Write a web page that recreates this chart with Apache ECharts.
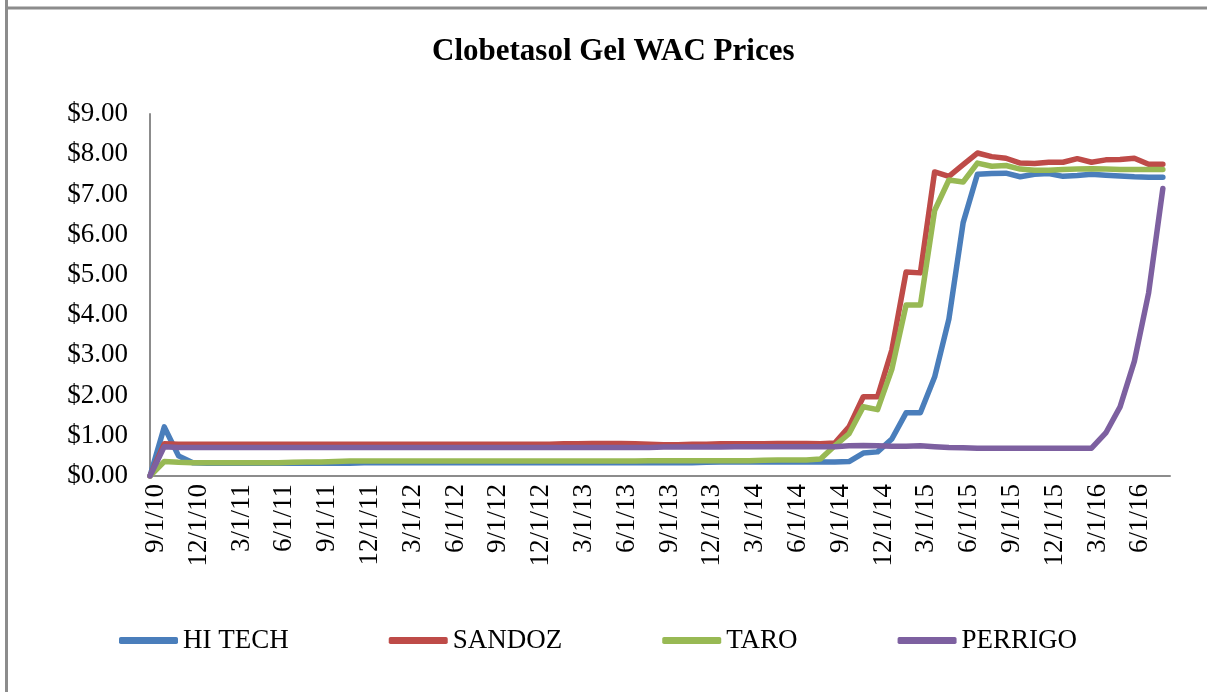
<!DOCTYPE html>
<html>
<head>
<meta charset="utf-8">
<script src="https://cdn.jsdelivr.net/npm/echarts@6/dist/echarts.min.js"></script>
<style>
  html, body { margin: 0; padding: 0; background: #fff; }
  #chart { width: 1207px; height: 692px; }
</style>
</head>
<body>
<div id="chart"></div>
<script>
  // monthly dates, 9/1/10 .. 8/1/16
  var months = [
    '9/1/10', '10/1/10', '11/1/10', '12/1/10', '1/1/11', '2/1/11', '3/1/11', '4/1/11', '5/1/11', '6/1/11', '7/1/11', '8/1/11',
    '9/1/11', '10/1/11', '11/1/11', '12/1/11', '1/1/12', '2/1/12', '3/1/12', '4/1/12', '5/1/12', '6/1/12', '7/1/12', '8/1/12',
    '9/1/12', '10/1/12', '11/1/12', '12/1/12', '1/1/13', '2/1/13', '3/1/13', '4/1/13', '5/1/13', '6/1/13', '7/1/13', '8/1/13',
    '9/1/13', '10/1/13', '11/1/13', '12/1/13', '1/1/14', '2/1/14', '3/1/14', '4/1/14', '5/1/14', '6/1/14', '7/1/14', '8/1/14',
    '9/1/14', '10/1/14', '11/1/14', '12/1/14', '1/1/15', '2/1/15', '3/1/15', '4/1/15', '5/1/15', '6/1/15', '7/1/15', '8/1/15',
    '9/1/15', '10/1/15', '11/1/15', '12/1/15', '1/1/16', '2/1/16', '3/1/16', '4/1/16', '5/1/16', '6/1/16', '7/1/16', '8/1/16'
  ];

  var hiTech = [
    0, 1.22, 0.50, 0.33, 0.32, 0.32, 0.32, 0.32, 0.32, 0.32, 0.32, 0.32,
    0.32, 0.32, 0.32, 0.33, 0.33, 0.33, 0.33, 0.33, 0.33, 0.33, 0.33, 0.33,
    0.33, 0.33, 0.33, 0.33, 0.33, 0.33, 0.33, 0.33, 0.33, 0.33, 0.33, 0.33,
    0.33, 0.33, 0.33, 0.34, 0.35, 0.35, 0.35, 0.35, 0.35, 0.35, 0.35, 0.35,
    0.35, 0.36, 0.57, 0.60, 0.92, 1.57, 1.57, 2.46, 3.90, 6.30, 7.50, 7.52,
    7.53, 7.44, 7.50, 7.52, 7.45, 7.47, 7.50, 7.48, 7.46, 7.44, 7.43, 7.43
  ];
  var sandoz = [
    0, 0.80, 0.79, 0.79, 0.79, 0.79, 0.79, 0.79, 0.79, 0.79, 0.79, 0.79,
    0.79, 0.79, 0.79, 0.79, 0.79, 0.79, 0.79, 0.79, 0.79, 0.79, 0.79, 0.79,
    0.79, 0.79, 0.79, 0.79, 0.79, 0.80, 0.80, 0.81, 0.81, 0.81, 0.80, 0.79,
    0.78, 0.78, 0.79, 0.79, 0.80, 0.80, 0.80, 0.80, 0.81, 0.81, 0.81, 0.80,
    0.82, 1.22, 1.97, 1.97, 3.13, 5.07, 5.05, 7.56, 7.45, 7.74, 8.03, 7.94,
    7.90, 7.78, 7.77, 7.80, 7.80, 7.89, 7.80, 7.86, 7.87, 7.90, 7.75, 7.75
  ];
  var taro = [
    0, 0.36, 0.34, 0.33, 0.33, 0.33, 0.33, 0.33, 0.33, 0.33, 0.34, 0.35,
    0.35, 0.36, 0.37, 0.37, 0.37, 0.37, 0.37, 0.37, 0.37, 0.37, 0.37, 0.37,
    0.37, 0.37, 0.37, 0.37, 0.37, 0.37, 0.37, 0.37, 0.37, 0.37, 0.37, 0.38,
    0.38, 0.38, 0.38, 0.38, 0.38, 0.38, 0.38, 0.39, 0.40, 0.40, 0.40, 0.42,
    0.75, 1.05, 1.72, 1.65, 2.65, 4.25, 4.25, 6.60, 7.36, 7.31, 7.78, 7.70,
    7.72, 7.63, 7.60, 7.60, 7.62, 7.63, 7.64, 7.63, 7.62, 7.62, 7.62, 7.62
  ];
  var perrigo = [
    0, 0.73, 0.71, 0.71, 0.71, 0.71, 0.71, 0.71, 0.71, 0.71, 0.71, 0.71,
    0.71, 0.71, 0.71, 0.71, 0.71, 0.71, 0.71, 0.71, 0.71, 0.71, 0.71, 0.71,
    0.71, 0.71, 0.71, 0.71, 0.71, 0.71, 0.71, 0.71, 0.71, 0.71, 0.71, 0.71,
    0.72, 0.72, 0.72, 0.72, 0.72, 0.73, 0.73, 0.73, 0.73, 0.73, 0.73, 0.73,
    0.73, 0.75, 0.76, 0.75, 0.74, 0.74, 0.75, 0.73, 0.71, 0.70, 0.69, 0.69,
    0.69, 0.69, 0.69, 0.69, 0.69, 0.69, 0.69, 1.07, 1.72, 2.85, 4.55, 7.15
  ];

  var seriesNames = ['HI TECH', 'SANDOZ', 'TARO', 'PERRIGO'];
  var seriesColors = ['#4A7EBB', '#BE4B48', '#98B954', '#7D60A0'];
  var seriesValues = [hiTech, sandoz, taro, perrigo];

  var font = '"Liberation Serif", "Times New Roman", serif';

  var series = seriesNames.map(function (name, k) {
    return {
      name: name,
      type: 'line',
      showSymbol: false,
      symbol: 'none',
      color: seriesColors[k],
      lineStyle: { width: 5.5, cap: 'round', join: 'round' },
      data: seriesValues[k].map(function (v, i) { return [i, v]; })
    };
  });

  var chart = echarts.init(document.getElementById('chart'));
  chart.setOption({
    animation: false,
    backgroundColor: '#fff',
    title: {
      text: 'Clobetasol Gel WAC Prices',
      left: 427,
      top: 31,
      textStyle: { fontFamily: font, fontSize: 31, fontWeight: 'bold', color: '#000' }
    },
    legend: {
      left: 114,
      top: 622,
      itemWidth: 59,
      itemHeight: 7,
      itemGap: 100,
      icon: 'roundRect',
      textStyle: { fontFamily: font, fontSize: 27, color: '#000' },
      data: seriesNames
    },
    grid: { left: 150, right: 37, top: 114, bottom: 216 },
    xAxis: {
      type: 'value',
      min: 0,
      max: 71.5,
      interval: 3,
      splitLine: { show: false },
      axisTick: { show: false },
      axisLine: { lineStyle: { color: '#8c8c8c', width: 2 } },
      axisLabel: {
        rotate: 90,
        margin: 8,
        verticalAlign: 'top',
        lineHeight: 12,
        fontFamily: font,
        fontSize: 27,
        color: '#000',
        showMaxLabel: false,
        formatter: function (v) {
          return (v % 3 === 0 && months[v]) ? months[v] : '';
        }
      }
    },
    yAxis: {
      type: 'value',
      min: 0,
      max: 9,
      interval: 1,
      splitLine: { show: false },
      axisTick: { show: false },
      axisLine: { show: true, lineStyle: { color: '#8c8c8c', width: 2 } },
      axisLabel: {
        margin: 22,
        fontFamily: font,
        fontSize: 27,
        color: '#000',
        formatter: function (v) { return '$' + v.toFixed(2); }
      }
    },
    graphic: [
      { type: 'line', shape: { x1: 6.5, y1: 0, x2: 6.5, y2: 692 }, style: { stroke: '#8c8c8c', lineWidth: 3 } },
      { type: 'line', shape: { x1: 6, y1: 8, x2: 1207, y2: 8 }, style: { stroke: '#8c8c8c', lineWidth: 3 } }
    ],
    series: series
  });
</script>
</body>
</html>
